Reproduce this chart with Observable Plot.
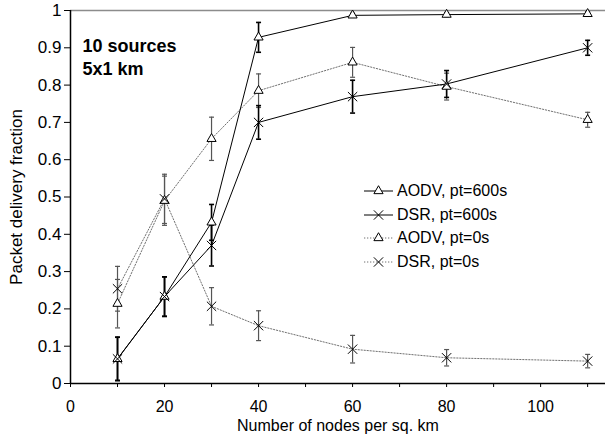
<!DOCTYPE html>
<html><head><meta charset="utf-8">
<script src="https://cdn.jsdelivr.net/npm/d3@7"></script>
<script src="https://cdn.jsdelivr.net/npm/@observablehq/plot@0.6"></script>
<style>
body{margin:0;background:#fff;}
#wrap{position:relative;width:608px;height:439px;font-family:"Liberation Sans",Arial,sans-serif;}
#legend{position:absolute;left:364px;top:179px;font-size:16px;color:#000;}
.row{display:flex;align-items:center;height:23.7px;white-space:nowrap;}
.row svg{margin-right:4px;overflow:visible}
</style></head><body><div id="wrap"></div>
<script>
// ---- data ----
const nodes = [10, 20, 30, 40, 60, 80, 110];
const aodv600 = [0.066, 0.233, 0.432, 0.928, 0.987, 0.989, 0.991];
const aodv600Err = [0.058, 0.053, 0.048, 0.04, 0.005, 0.005, 0.005];
const dsr600 = [0.066, 0.233, 0.37, 0.70, 0.769, 0.803, 0.90];
const dsr600Err = [0.058, 0.053, 0.055, 0.045, 0.044, 0.036, 0.02];
const aodv0 = [0.214, 0.49, 0.656, 0.785, 0.861, 0.796, 0.707];
const aodv0Err = [0.065, 0.066, 0.058, 0.045, 0.04, 0.036, 0.02];
const dsr0 = [0.254, 0.495, 0.207, 0.155, 0.092, 0.069, 0.06];
const dsr0Err = [0.06, 0.066, 0.05, 0.04, 0.037, 0.022, 0.018];
const seriesNames = ["AODV, pt=600s", "DSR, pt=600s", "AODV, pt=0s", "DSR, pt=0s"];
const xTicks = [0, 10, 20, 30, 40, 50, 60, 70, 80, 90, 100, 110];
const xLabels = [0, 20, 40, 60, 80, 100];
const yTicks = [0, 0.1, 0.2, 0.3, 0.4, 0.5, 0.6, 0.7, 0.8, 0.9, 1];
const annotation = ["10 sources", "5x1 km"];

// ---- styles per series ----
const styles = {
  "AODV, pt=600s": {stroke: "#000", dash: null, symbol: "triangle", err: "#000", errW: 1.6},
  "DSR, pt=600s": {stroke: "#000", dash: null, symbol: "times", err: "#000", errW: 1.6},
  "AODV, pt=0s": {stroke: "#707070", dash: "1.3,1.7", symbol: "triangle", err: "#555", errW: 1.2},
  "DSR, pt=0s": {stroke: "#707070", dash: "1.3,1.7", symbol: "times", err: "#555", errW: 1.2}
};
const values = [aodv600, dsr600, aodv0, dsr0];
const errs = [aodv600Err, dsr600Err, aodv0Err, dsr0Err];
const rows = [];
seriesNames.forEach((s, i) => nodes.forEach((n, j) => rows.push({series: s, x: n, y: values[i][j], e: errs[i][j]})));

const capSymbol = {draw(ctx, size) { const w = Math.sqrt(size / Math.PI); ctx.moveTo(-w, 0); ctx.lineTo(w, 0); }};
const triR = 3.4, timesR = 4.3;

const marks = [
  Plot.ruleY([1], {stroke: "#8c8c8c", strokeWidth: 1.5}),
  Plot.axisX({ticks: xTicks, tickSize: 4, tickPadding: 13, tickFormat: d => xLabels.includes(d) ? String(d) : "",
    fontSize: 16, label: null}),
  Plot.axisX({ticks: [], tickSize: 0, label: "Number of nodes per sq. km", labelAnchor: "center", labelArrow: "none",
    labelOffset: 47, fontSize: 16}),
  Plot.axisY({ticks: yTicks, tickSize: 6, tickPadding: 3, tickFormat: d => String(+d.toFixed(1)),
    label: "Packet delivery fraction", labelAnchor: "center", labelArrow: "none", labelOffset: 61, fontSize: 17}),
  Plot.ruleX([0], {stroke: "#000", strokeWidth: 1.5}),
  Plot.ruleY([0], {stroke: "#000", strokeWidth: 1.5})
];
// draw dotted series first, then solid
const order = ["AODV, pt=0s", "DSR, pt=0s", "AODV, pt=600s", "DSR, pt=600s"];
for (const s of order) {
  const st = styles[s];
  const data = rows.filter(r => r.series === s);
  marks.push(Plot.line(data, {x: "x", y: "y", stroke: st.stroke, strokeWidth: 1, strokeDasharray: st.dash}));
}
for (const s of order) {
  const st = styles[s];
  const data = rows.filter(r => r.series === s);
  marks.push(Plot.ruleX(data, {x: "x", y1: d => d.y - d.e, y2: d => d.y + d.e, stroke: st.err, strokeWidth: st.errW}));
  marks.push(Plot.dot(data, {x: "x", y: d => d.y + d.e, symbol: capSymbol, r: 2.5, stroke: st.err, strokeWidth: st.errW}));
  marks.push(Plot.dot(data, {x: "x", y: d => d.y - d.e, symbol: capSymbol, r: 2.5, stroke: st.err, strokeWidth: st.errW}));
}
for (const s of order) {
  const st = styles[s];
  const data = rows.filter(r => r.series === s);
  marks.push(Plot.dot(data, {x: "x", y: "y", symbol: st.symbol, r: st.symbol === "triangle" ? triR : timesR,
    stroke: "#000", strokeWidth: 1, fill: st.symbol === "triangle" ? "#fff" : "none"}));
}
marks.push(Plot.text([annotation.join("\n")], {text: d => d, frameAnchor: "top-left", dx: 12, dy: 25,
  fontWeight: "bold", fontSize: 18, lineHeight: 1.28, textAnchor: "start", lineAnchor: "top", fill: "#000"}));

const chart = Plot.plot({
  width: 608, height: 439,
  marginLeft: 70, marginRight: 3, marginTop: 10, marginBottom: 56,
  style: {fontFamily: "'Liberation Sans', Arial, sans-serif", fontSize: "17px", color: "#000", background: "#fff"},
  x: {domain: [0, 113.8]},
  y: {domain: [0, 1]},
  marks
});
const wrap = document.getElementById("wrap");
wrap.appendChild(chart);

// ---- legend (HTML overlay) ----
const legend = document.createElement("div");
legend.id = "legend";
for (const s of seriesNames) {
  const st = styles[s];
  const row = document.createElement("div");
  row.className = "row";
  const svg = d3.create("svg").attr("width", 29).attr("height", 20);
  svg.append("line").attr("x1", 0).attr("x2", 29).attr("y1", 10).attr("y2", 10)
    .attr("stroke", st.stroke).attr("stroke-width", 1).attr("stroke-dasharray", st.dash);
  const sym = st.symbol === "triangle" ? d3.symbolTriangle : d3.symbolTimes;
  const r = st.symbol === "triangle" ? triR : timesR;
  svg.append("path").attr("transform", "translate(14.5,10)")
    .attr("d", d3.symbol(sym, r * r * Math.PI)())
    .attr("stroke", "#000").attr("fill", st.symbol === "triangle" ? "#fff" : "none");
  row.appendChild(svg.node());
  const span = document.createElement("span");
  span.textContent = s;
  row.appendChild(span);
  legend.appendChild(row);
}
wrap.appendChild(legend);
</script>
</body></html>
